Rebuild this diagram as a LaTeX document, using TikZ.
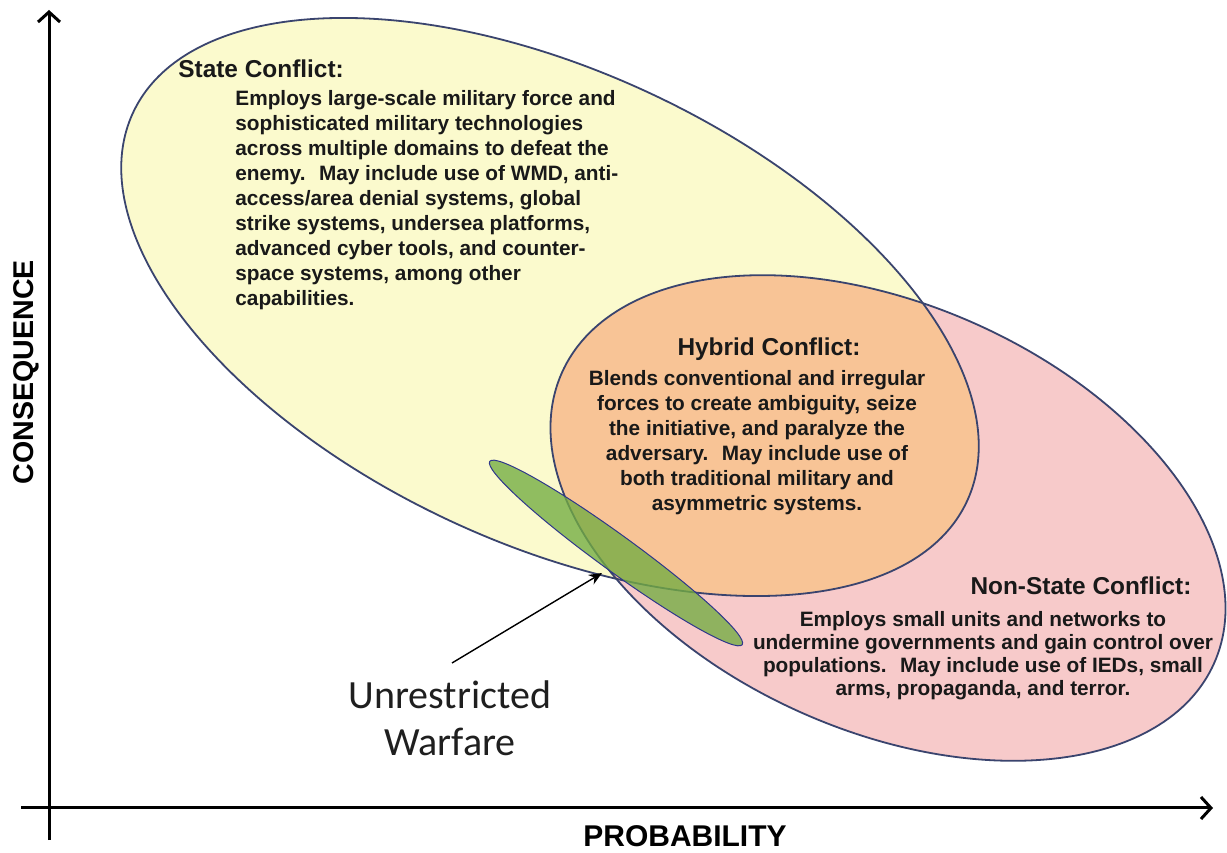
\documentclass[tikz,border=0pt]{standalone}
\usepackage{fontspec}
\setmainfont{Liberation Sans}
\newfontfamily\calib{Carlito}
\usetikzlibrary{arrows.meta}
\definecolor{stfill}{RGB}{251,250,205}
\definecolor{nsfill}{RGB}{247,202,202}
\definecolor{hyfill}{RGB}{248,196,150}
\definecolor{uwfill}{RGB}{115,172,66}
\definecolor{edge}{RGB}{58,68,110}
\begin{document}
\begin{tikzpicture}[x=0.5pt,y=0.5pt,
  bodytext/.style={font=\bfseries\fontsize{10.4}{12.5}\selectfont, inner sep=0pt, text=black!90},
  nsbodytext/.style={font=\bfseries\fontsize{10.4}{11.65}\selectfont, inner sep=0pt, text=black!90},
  titletext/.style={font=\bfseries\fontsize{12.2}{14}\selectfont, inner sep=0pt, text=black!90},
  axislabel/.style={font=\bfseries\fontsize{15}{18}\selectfont, inner sep=0pt},
  axisline/.style={line width=1.5pt, -{Straight Barb[length=5pt,width=11pt]}},
  outline/.style={draw=edge, line width=0.9pt},
  pointer/.style={line width=0.7pt, -{Stealth[length=6.5pt,width=5.5pt]}}]
\useasboundingbox (0,0) rectangle (1227,852);
\fill[white] (0,0) rectangle (1227,852);

% fills
\fill[stfill, rotate around={-25:(550,545)}] (550,545) ellipse [x radius=460, y radius=236];
\fill[nsfill, rotate around={-24:(888,334)}] (888,334) ellipse [x radius=357, y radius=213];
\begin{scope}
  \clip[rotate around={-24:(888,334)}] (888,334) ellipse [x radius=357, y radius=213];
  \fill[hyfill, rotate around={-25:(550,545)}] (550,545) ellipse [x radius=460, y radius=236];
\end{scope}
% outlines
\draw[outline, rotate around={-25:(550,545)}] (550,545) ellipse [x radius=460, y radius=236];
\draw[outline, rotate around={-24:(888,334)}] (888,334) ellipse [x radius=357, y radius=213];
% unrestricted warfare ellipse
\filldraw[fill=uwfill, fill opacity=0.78, draw=edge!80!blue, line width=0.5pt, rotate around={-36:(616,299)}] (616,299) ellipse [x radius=156, y radius=18];

% axes
\coordinate (yb) at (49,12);
\coordinate (yt) at (49,842);
\coordinate (xl) at (21,44);
\coordinate (xr) at (1213,44);
\draw[axisline] (yb) -- (yt);
\draw[axisline] (xl) -- (xr);
\node[axislabel, font=\bfseries\fontsize{14.3}{17}\selectfont, rotate=90] (cons) at (26,480) {CONSEQUENCE};
\node[axislabel, anchor=base] (prob) at (685,5) {PROBABILITY};

% texts (base anchor = baseline of the last line)
\node[titletext, anchor=base west] (stt) at (178,774) {State Conflict:};
\node[bodytext, anchor=base west, align=left] (stb) at (235,546) {Employs large-scale military force and\\
sophisticated military technologies\\
across multiple domains to defeat the\\
enemy.~ May include use of WMD, anti-\\
access/area denial systems, global\\
strike systems, undersea platforms,\\
advanced cyber tools, and counter-\\
space systems, among other\\
capabilities.};
\node[titletext, anchor=base] (hyt) at (769,496) {Hybrid Conflict:};
\node[bodytext, anchor=base, align=center] (hyb) at (757,341) {Blends conventional and irregular\\
forces to create ambiguity, seize\\
the initiative, and paralyze the\\
adversary.~ May include use of\\
both traditional military and\\
asymmetric systems.};
\node[titletext, anchor=base] (nst) at (1081,257) {Non-State Conflict:};
\node[nsbodytext, anchor=base, align=center] (nsb) at (983,156) {Employs small units and networks to\\
undermine governments and gain control over\\
populations.~ May include use of IEDs, small\\
arms, propaganda, and terror.};

\node[font=\calib\fontsize{20}{24}\selectfont, anchor=base, align=center, inner sep=0pt, text=black!88] (uw) at (450,96) {Unrestricted\\Warfare};
\coordinate (ustart) at (452,189);
\coordinate (tip) at (602,279);
\draw[pointer] (ustart) -- (tip);
\end{tikzpicture}
\end{document}
